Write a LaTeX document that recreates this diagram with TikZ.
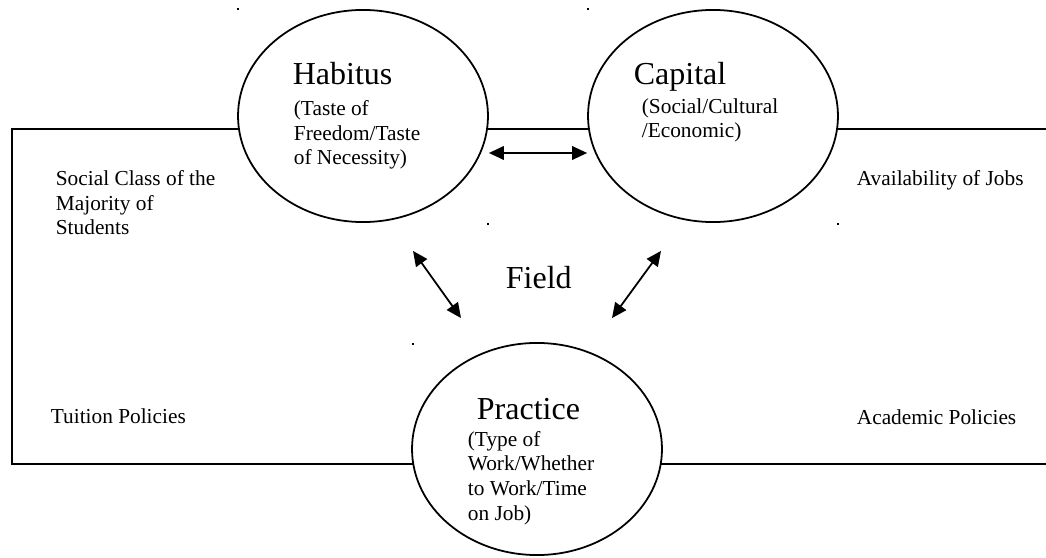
\documentclass[tikz,border=0pt]{standalone}
\usepackage{fontspec}
\setmainfont{Liberation Serif}
\usepackage{tikz}
\usetikzlibrary{shapes.geometric}
\usetikzlibrary{arrows.meta}

\tikzset{
    bubble/.style={ellipse, draw=black, fill=white, line width=1pt, minimum width=140.6pt, minimum height=119.3pt},
    title/.style={font=\fontsize{18}{21}\selectfont, anchor=base west, inner sep=0pt},
    note/.style={font=\fontsize{12}{13.8}\selectfont, align=left, anchor=base west, inner sep=0pt},
}

\begin{document}
\begin{tikzpicture}[x=0.5625pt, y=-0.5625pt, line width=1pt, >={Triangle[length=8.4pt, width=7.6pt]}]
    \useasboundingbox (0, 0) rectangle (1046, 558);

    % frame of the field
    \coordinate (tr) at (1046, 129);
    \coordinate (tl) at (12, 129);
    \coordinate (bl) at (12, 464);
    \coordinate (br) at (1046, 464);
    \draw (tr) -- (tl) -- (bl) -- (br);

    \node [bubble] (habitus) at (363, 116) {};
    \node [bubble] (capital) at (713, 116) {};
    \node [bubble] (practice) at (537, 449) {};

    % notes are placed by the baseline of their last line
    \node [title] (habitustitle) at (292, 85) {Habitus};
    \node [note] (habitusnote) at (293, 165) {(Taste of\\Freedom/Taste\\of Necessity)};
    \node [title] (capitaltitle) at (633, 85) {Capital};
    \node [note] (capitalnote) at (641, 138) {(Social/Cultural\\/Economic)};
    \node [title] (practicetitle) at (476, 420) {Practice};
    \node [note] (practicenote) at (467, 520) {(Type of\\Work/Whether\\to Work/Time\\on Job)};
    \node [title] (field) at (505, 289) {Field};

    \node [note] (social) at (55, 235) {Social Class of the\\Majority of\\Students};
    \node [note] (tuition) at (50, 424) {Tuition Policies};
    \node [note] (jobs) at (856, 186) {Availability of Jobs};
    \node [note] (academic) at (856, 425) {Academic Policies};

    \draw [<->] ([shift={(0, 37)}]habitus.east) -- ([shift={(0, 37)}]capital.west);
    \draw [<->] ([shift={(50, 28)}]habitus.south) -- ([shift={(-76, -24)}]practice.north);
    \draw [<->] ([shift={(-52, 28)}]capital.south) -- ([shift={(75, -24)}]practice.north);

    % specks left by the text boxes
    \fill (237, 8) rectangle (239, 10);
    \fill (587, 8) rectangle (589, 10);
    \fill (487, 223) rectangle (489, 225);
    \fill (837, 223) rectangle (839, 225);
    \fill (412, 343) rectangle (414, 345);
\end{tikzpicture}
\end{document}
